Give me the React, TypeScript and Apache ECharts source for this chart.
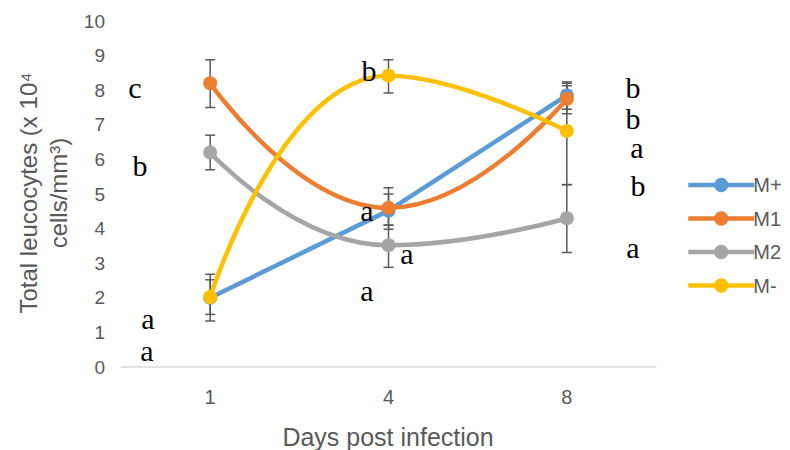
import React, { useEffect, useRef } from "react";
import * as echarts from "echarts";

const days = ["1", "4", "8"];
const seriesNames = ["M+", "M1", "M2", "M-"];
const colors = ["#5B9BD5", "#ED7D31", "#A5A5A5", "#FFC000"];
const mPlus = [2.0, 4.52, 7.85];
const m1 = [8.2, 4.6, 7.75];
const m2 = [6.2, 3.52, 4.3];
const mMinus = [2.02, 8.42, 6.82];
const smoothFlags = [false, true, true, true];
// error bars: [low, high] per day
const errMPlus = [[1.52, 2.52], [3.98, 5.0], [7.45, 8.24]];
const errM1 = [[7.5, 8.88], [4.1, 5.18], [7.32, 8.13]];
const errM2 = [[5.7, 6.7], [2.88, 4.1], [3.31, 5.27]];
const errMMinus = [[1.33, 2.68], [7.92, 8.88], [5.27, 8.2]];
const yTicks = [0, 10, 1];

// significance letters
const letters = [
  { t: "c", x: 135, y: 97 },
  { t: "b", x: 140, y: 175 },
  { t: "a", x: 148, y: 328 },
  { t: "a", x: 147, y: 360 },
  { t: "b", x: 369, y: 80 },
  { t: "a", x: 367, y: 220 },
  { t: "a", x: 407, y: 263 },
  { t: "a", x: 367, y: 300 },
  { t: "b", x: 633, y: 97 },
  { t: "b", x: 633, y: 128 },
  { t: "a", x: 637, y: 157 },
  { t: "b", x: 638, y: 195 },
  { t: "a", x: 633, y: 257 },
];

const values = [mPlus, m1, m2, mMinus];
const errs = [errMPlus, errM1, errM2, errMMinus];

export default function App() {
  const ref = useRef<HTMLDivElement>(null);
  useEffect(() => {
    if (!ref.current) return;
    const chart = echarts.init(ref.current, null, { renderer: "svg" });
    const font = "'Liberation Sans', Arial, sans-serif";
    const errData: any[] = [];
    errs.forEach((e) => e.forEach((p, i) => errData.push([i, p[0], p[1]])));

    const series: any[] = values.map((v, k) => ({
      name: seriesNames[k],
      type: "line",
      data: v,
      smooth: smoothFlags[k] ? 0.5 : false,
      symbol: "circle",
      symbolSize: 14,
      itemStyle: { color: colors[k] },
      lineStyle: { color: colors[k], width: 4.5 },
      z: 3 + k,
    }));
    series.push({
      type: "custom",
      name: "err",
      data: errData,
      encode: { x: 0, y: [1, 2] },
      z: 2,
      silent: true,
      renderItem: (params: any, api: any) => {
        const x = api.value(0);
        const lo = api.coord([x, api.value(1)]);
        const hi = api.coord([x, api.value(2)]);
        const w = 5;
        const st = { stroke: "#595959", lineWidth: 1.5 };
        return {
          type: "group",
          children: [
            { type: "line", shape: { x1: lo[0], y1: lo[1], x2: hi[0], y2: hi[1] }, style: st },
            { type: "line", shape: { x1: lo[0] - w, y1: lo[1], x2: lo[0] + w, y2: lo[1] }, style: st },
            { type: "line", shape: { x1: hi[0] - w, y1: hi[1], x2: hi[0] + w, y2: hi[1] }, style: st },
          ],
        };
      },
    });

    const graphic: any[] = letters.map((l) => ({
      type: "text",
      x: l.x,
      y: l.y + 5,
      style: {
        text: l.t,
        font: "30px 'Liberation Serif', 'Times New Roman', serif",
        fill: "#000",
        textAlign: "center",
        textVerticalAlign: "bottom",
      },
      z: 10,
    }));
    graphic.push({
      type: "text",
      x: 43,
      y: 193,
      rotation: Math.PI / 2,
      style: {
        text: "Total leucocytes (x 10\u2074\ncells/mm\u00b3)",
        font: "24px " + font,
        fill: "#595959",
        textAlign: "center",
        textVerticalAlign: "middle",
        lineHeight: 30,
      },
    });
    graphic.push({
      type: "text",
      x: 388,
      y: 437,
      style: {
        text: "Days post infection",
        font: "25px " + font,
        fill: "#595959",
        textAlign: "center",
        textVerticalAlign: "middle",
      },
    });

    chart.setOption({
      animation: false,
      backgroundColor: "#fff",
      grid: { left: 121, right: 134, top: 21, bottom: 83 },
      xAxis: {
        type: "category",
        data: days,
        boundaryGap: true,
        axisLine: { lineStyle: { color: "#D9D9D9", width: 1.5 } },
        axisTick: { show: false },
        axisLabel: { color: "#595959", fontSize: 20, fontFamily: font, margin: 20 },
        splitLine: { show: false },
      },
      yAxis: {
        type: "value",
        min: yTicks[0],
        max: yTicks[1],
        interval: yTicks[2],
        axisLine: { show: false },
        axisTick: { show: false },
        splitLine: { show: false },
        axisLabel: { color: "#595959", fontSize: 19, fontFamily: font, margin: 16 },
      },
      legend: {
        orient: "vertical",
        left: 681,
        top: 170,
        itemWidth: 66,
        itemHeight: 18,
        itemGap: 13.5,
        data: seriesNames,
        lineStyle: { width: 4.5 },
        textStyle: { color: "#595959", fontSize: 20, fontFamily: font, padding: [0, 0, 0, -6] },
      },
      graphic,
      series,
    });
    return () => chart.dispose();
  }, []);
  return <div ref={ref} style={{ width: 790, height: 450, position: "absolute", left: 0, top: 0 }} />;
}
